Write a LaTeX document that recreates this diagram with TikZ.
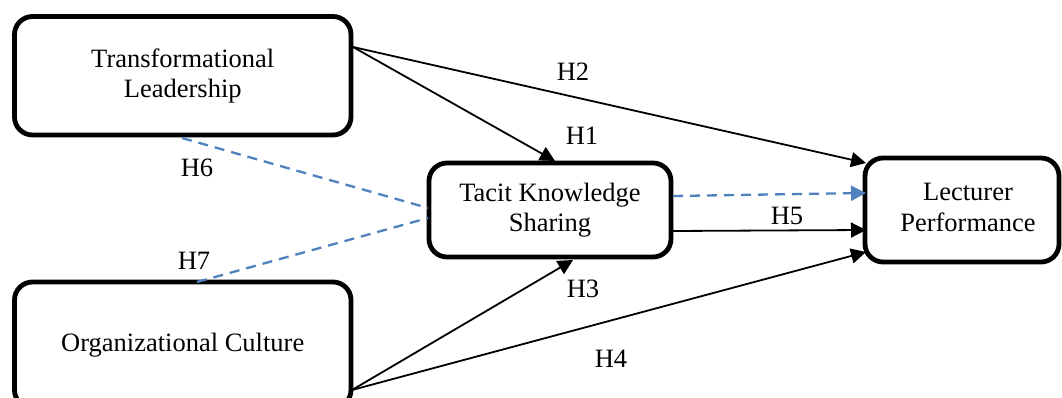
\documentclass[tikz,border=0pt]{standalone}
\usepackage{fontspec}
\setmainfont{Liberation Serif}
\usetikzlibrary{arrows.meta}
\definecolor{linkblue}{HTML}{4F81BD}
\tikzset{
  conbox/.style={draw=black, line width=4.8pt, rounded corners=18pt, fill=white,
    inner sep=0pt, align=center, font=\fontsize{26.5}{30.5}\selectfont},
  hyp/.style={inner sep=0pt, font=\fontsize{26.5}{30.5}\selectfont},
  solidarrow/.style={draw=black, line width=1.8pt,
    -{Triangle[length=15pt,width=15pt]}},
  moderator/.style={draw=linkblue, line width=2.3pt, dash pattern=on 10pt off 7pt},
  bluearrow/.style={moderator, -{Triangle[length=15pt,width=15pt,fill=linkblue]}},
}
\begin{document}
\begin{tikzpicture}[x=1pt, y=-1pt]
  \useasboundingbox (0,0) rectangle (1062,398);
  \clip (0,0) rectangle (1062,398);

  % constructs
  \node[conbox, minimum width=336.5pt, minimum height=118.5pt] (tl) at (182.75,75.75)
    {Transformational\\Leadership};
  \node[conbox, minimum width=336.5pt, minimum height=126pt] (oc) at (182.75,345)
    {Organizational Culture};
  \node[conbox, minimum width=242pt, minimum height=94pt] (tks) at (550,210)
    {Tacit Knowledge\\Sharing};
  \node[conbox, minimum width=194pt, minimum height=104pt] (lp) at (962,210)
    {\hspace*{12pt}\begin{tabular}{@{}c@{}}Lecturer\\Performance\end{tabular}};

  % connector end points on the box borders
  \coordinate (tl-out) at (353,47);
  \coordinate (tl-low) at (182,138);
  \coordinate (oc-out) at (352,390);
  \coordinate (oc-top) at (197,282);
  \coordinate (tks-top) at (555,161);
  \coordinate (tks-bot) at (573,260);
  \coordinate (tks-l1) at (428,208);
  \coordinate (tks-l2) at (428,218);
  \coordinate (tks-r1) at (673,196);
  \coordinate (tks-r2) at (673,231);
  \coordinate (lp-top) at (866,163);
  \coordinate (lp-mid) at (866,193);
  \coordinate (lp-low) at (866,230);
  \coordinate (lp-bot) at (866,252);

  % direct effects
  \draw[solidarrow] (tl-out) -- (tks-top);
  \draw[solidarrow] (tl-out) -- (lp-top);
  \draw[solidarrow] (oc-out) -- (tks-bot);
  \draw[solidarrow] (oc-out) -- (lp-bot);
  \draw[solidarrow] (tks-r2) -- (lp-low);

  % mediated effects
  \draw[moderator] (tl-low) -- (tks-l1);
  \draw[moderator] (oc-top) -- (tks-l2);
  \draw[bluearrow] (tks-r1) -- (lp-mid);

  % hypothesis labels
  \node[hyp] (h1) at (582,136) {H1};
  \node[hyp] (h2) at (573,72) {H2};
  \node[hyp] (h3) at (583,289) {H3};
  \node[hyp] (h4) at (611,359) {H4};
  \node[hyp] (h5) at (787,216) {H5};
  \node[hyp] (h6) at (197,168) {H6};
  \node[hyp] (h7) at (194,261) {H7};
\end{tikzpicture}
\end{document}
